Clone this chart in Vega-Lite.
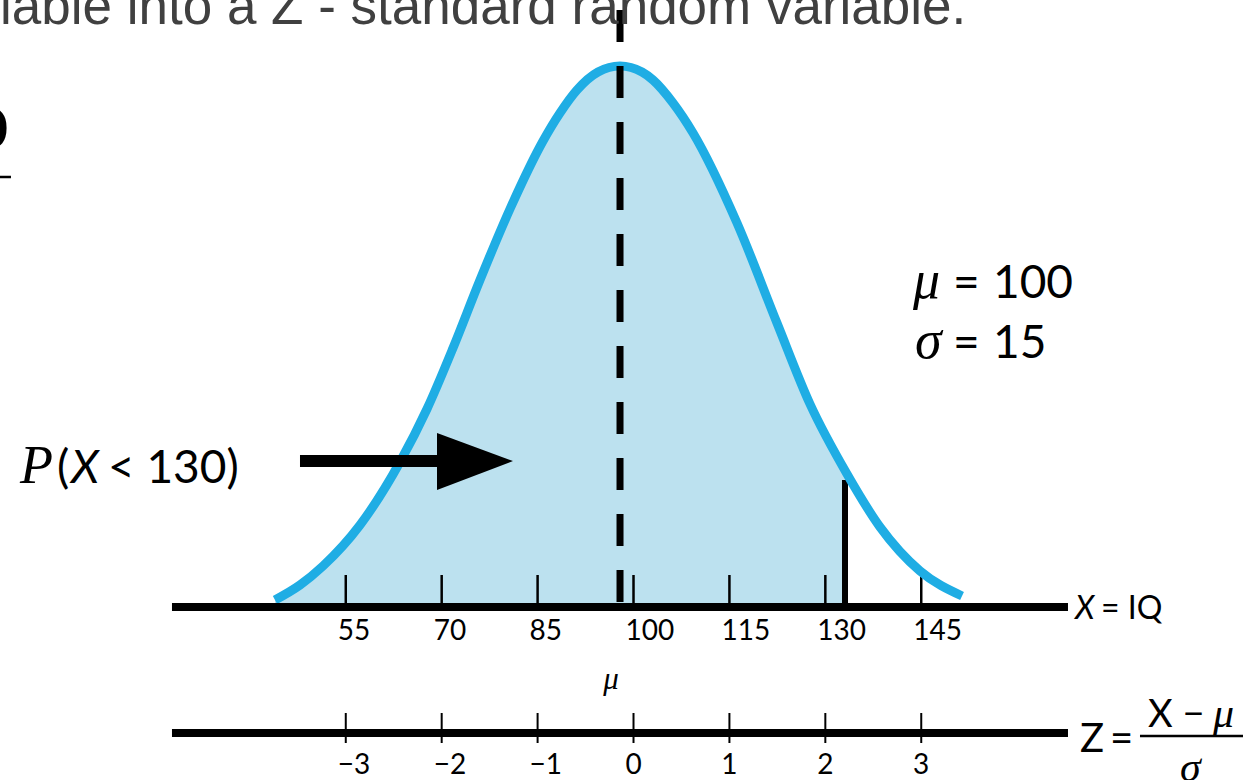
{
  "$schema": "https://vega.github.io/schema/vega-lite/v6.json",
  "width": 1243,
  "height": 780,
  "autosize": {"type": "none"},
  "padding": 0,
  "background": "white",
  "config": {"view": {"stroke": null}},
  "datasets": {
    "curve": [
      {"x": 43.93, "y": 7}, {"x": 47.84, "y": 22}, {"x": 51.44, "y": 41}, {"x": 57.23, "y": 82},
      {"x": 63.48, "y": 145}, {"x": 67.70, "y": 198}, {"x": 71.77, "y": 259}, {"x": 75.99, "y": 327},
      {"x": 80.68, "y": 398}, {"x": 85.85, "y": 466}, {"x": 88.50, "y": 494}, {"x": 91.16, "y": 517}, {"x": 94.45, "y": 535},
      {"x": 97.89, "y": 541}, {"x": 101.33, "y": 535}, {"x": 103.05, "y": 527}, {"x": 106.18, "y": 504}, {"x": 109.31, "y": 474},
      {"x": 116.19, "y": 384}, {"x": 122.44, "y": 284}, {"x": 127.60, "y": 203}, {"x": 133.39, "y": 133},
      {"x": 138.55, "y": 80}, {"x": 144.81, "y": 36}, {"x": 151.38, "y": 11}
    ],
    "fill": [
      {"x": 43.93, "y": 7}, {"x": 47.84, "y": 22}, {"x": 51.44, "y": 41}, {"x": 57.23, "y": 82},
      {"x": 63.48, "y": 145}, {"x": 67.70, "y": 198}, {"x": 71.77, "y": 259}, {"x": 75.99, "y": 327},
      {"x": 80.68, "y": 398}, {"x": 85.85, "y": 466}, {"x": 88.50, "y": 494}, {"x": 91.16, "y": 517}, {"x": 94.45, "y": 535},
      {"x": 97.89, "y": 541}, {"x": 101.33, "y": 535}, {"x": 103.05, "y": 527}, {"x": 106.18, "y": 504}, {"x": 109.31, "y": 474},
      {"x": 116.19, "y": 384}, {"x": 122.44, "y": 284}, {"x": 127.60, "y": 203}, {"x": 133.08, "y": 136}
    ],
    "xticks": [
      {"x": 55, "label": "55"}, {"x": 70, "label": "70"}, {"x": 85, "label": "85"}, {"x": 100, "label": "100"},
      {"x": 115, "label": "115"}, {"x": 130, "label": "130"}, {"x": 145, "label": "145"}
    ],
    "zticks": [
      {"x": 55, "z": -3, "label": "−3"}, {"x": 70, "z": -2, "label": "−2"}, {"x": 85, "z": -1, "label": "−1"},
      {"x": 100, "z": 0, "label": "0"}, {"x": 115, "z": 1, "label": "1"}, {"x": 130, "z": 2, "label": "2"},
      {"x": 145, "z": 3, "label": "3"}
    ],
    "hlines": [
      {"x": 27.82, "x2": 167.95, "y": 0},
      {"x": 27.82, "x2": 167.95, "y": -126}
    ],
    "bars": [
      {"x": 179.21, "x2": 195.32, "y": -129},
      {"x": 0.924, "x2": 2.64, "y": 430}
    ],
    "mean": [{"x": 97.89}],
    "cut": [{"x": 133.08}],
    "shaft": [{"x": 47.84, "x2": 69.74}],
    "head": [{"x": 69.27, "y": 174, "y2": 117}, {"x": 81.15, "y": 146, "y2": 146}],
    "title": [{"x": 0.924, "y": 583, "text": "iable into a Z - standard random variable."}],
    "big": [
      {"x": 149.97, "y": 309, "text": "="}, {"x": 156.22, "y": 309, "text": "100"},
      {"x": 149.97, "y": 249, "text": "="}, {"x": 156.22, "y": 249, "text": "15"},
      {"x": 9.84, "y": 124, "text": "("}, {"x": 17.81, "y": 124, "text": "< 130)"}
    ],
    "bigSerif": [
      {"x": 143.71, "y": 309, "text": "μ"}, {"x": 144.03, "y": 249, "text": "σ"}, {"x": 4.05, "y": 124, "text": "P"}
    ],
    "bigItalic": [{"x": 12.03, "y": 124, "text": "X"}],
    "iqText": [{"x": 173.12, "y": -12, "text": "= IQ"}],
    "iqItalic": [{"x": 169.05, "y": -12, "text": "X"}],
    "zText": [{"x": 169.83, "y": -145, "text": "Z"}, {"x": 174.52, "y": -145, "text": "="}],
    "numText": [{"x": 180.47, "y": -120, "text": "X −"}],
    "zSerif": [{"x": 190.63, "y": -120, "text": "μ"}, {"x": 185.47, "y": -174, "text": "σ"}],
    "muLabel": [{"x": 96.48, "y": -73, "text": "μ"}],
    "edge": [{"x": 2.17, "y": 459, "text": "0"}]
  },
  "layer": [
    {
      "data": {"name": "fill"},
      "mark": {"type": "area", "color": "#BCE1EF", "interpolate": "monotone"},
      "encoding": {
        "x": {"field": "x", "type": "quantitative", "scale": {"domain": [0.924, 195.32], "nice": false, "zero": false}, "axis": null},
        "y": {"field": "y", "type": "quantitative", "scale": {"domain": [-173, 607], "nice": false, "zero": false}, "axis": null},
        "y2": {"datum": 0}
      }
    },
    {
      "data": {"name": "xticks"},
      "mark": {"type": "rule", "color": "black", "strokeWidth": 2.5},
      "encoding": {
        "x": {"field": "x", "type": "quantitative", "scale": {"domain": [0.924, 195.32], "nice": false, "zero": false}, "axis": null},
        "y": {"datum": 0, "type": "quantitative", "scale": {"domain": [-173, 607], "nice": false, "zero": false}, "axis": null},
        "y2": {"datum": 32}
      }
    },
    {
      "data": {"name": "cut"},
      "mark": {"type": "rule", "color": "black", "strokeWidth": 6},
      "encoding": {
        "x": {"field": "x", "type": "quantitative", "scale": {"domain": [0.924, 195.32], "nice": false, "zero": false}, "axis": null},
        "y": {"datum": 0, "type": "quantitative", "scale": {"domain": [-173, 607], "nice": false, "zero": false}, "axis": null},
        "y2": {"datum": 127}
      }
    },
    {
      "data": {"name": "curve"},
      "mark": {"type": "line", "color": "#1FADE4", "strokeWidth": 9, "interpolate": "monotone", "strokeCap": "butt"},
      "encoding": {
        "x": {"field": "x", "type": "quantitative", "scale": {"domain": [0.924, 195.32], "nice": false, "zero": false}, "axis": null},
        "y": {"field": "y", "type": "quantitative", "scale": {"domain": [-173, 607], "nice": false, "zero": false}, "axis": null}
      }
    },
    {
      "data": {"name": "hlines"},
      "mark": {"type": "rule", "color": "black", "strokeWidth": 8, "strokeCap": "butt"},
      "encoding": {
        "x": {"field": "x", "type": "quantitative", "scale": {"domain": [0.924, 195.32], "nice": false, "zero": false}, "axis": null},
        "x2": {"field": "x2"},
        "y": {"field": "y", "type": "quantitative", "scale": {"domain": [-173, 607], "nice": false, "zero": false}, "axis": null}
      }
    },
    {
      "data": {"name": "zticks"},
      "mark": {"type": "rule", "color": "black", "strokeWidth": 2},
      "encoding": {
        "x": {"field": "x", "type": "quantitative", "scale": {"domain": [0.924, 195.32], "nice": false, "zero": false}, "axis": null},
        "y": {"datum": -106, "type": "quantitative", "scale": {"domain": [-173, 607], "nice": false, "zero": false}, "axis": null},
        "y2": {"datum": -136}
      }
    },
    {
      "data": {"name": "mean"},
      "mark": {"type": "rule", "color": "black", "strokeWidth": 7, "strokeDash": [32, 24], "strokeCap": "butt"},
      "encoding": {
        "x": {"field": "x", "type": "quantitative", "scale": {"domain": [0.924, 195.32], "nice": false, "zero": false}, "axis": null},
        "y": {"datum": 597, "type": "quantitative", "scale": {"domain": [-173, 607], "nice": false, "zero": false}, "axis": null},
        "y2": {"datum": 5}
      }
    },
    {
      "data": {"name": "shaft"},
      "mark": {"type": "rule", "color": "black", "strokeWidth": 12, "strokeCap": "butt"},
      "encoding": {
        "x": {"field": "x", "type": "quantitative", "scale": {"domain": [0.924, 195.32], "nice": false, "zero": false}, "axis": null},
        "x2": {"field": "x2"},
        "y": {"datum": 146, "type": "quantitative", "scale": {"domain": [-173, 607], "nice": false, "zero": false}, "axis": null}
      }
    },
    {
      "data": {"name": "head"},
      "mark": {"type": "area", "color": "black"},
      "encoding": {
        "x": {"field": "x", "type": "quantitative", "scale": {"domain": [0.924, 195.32], "nice": false, "zero": false}, "axis": null},
        "y": {"field": "y", "type": "quantitative", "scale": {"domain": [-173, 607], "nice": false, "zero": false}, "axis": null},
        "y2": {"field": "y2"}
      }
    },
    {
      "data": {"name": "bars"},
      "mark": {"type": "rule", "color": "black", "strokeWidth": 2.5},
      "encoding": {
        "x": {"field": "x", "type": "quantitative", "scale": {"domain": [0.924, 195.32], "nice": false, "zero": false}, "axis": null},
        "x2": {"field": "x2"},
        "y": {"field": "y", "type": "quantitative", "scale": {"domain": [-173, 607], "nice": false, "zero": false}, "axis": null}
      }
    },
    {
      "data": {"name": "title"},
      "mark": {"type": "text", "font": "Liberation Sans", "fontSize": 53, "color": "#404040", "align": "left", "baseline": "alphabetic"},
      "encoding": {
        "x": {"field": "x", "type": "quantitative", "scale": {"domain": [0.924, 195.32], "nice": false, "zero": false}, "axis": null},
        "y": {"field": "y", "type": "quantitative", "scale": {"domain": [-173, 607], "nice": false, "zero": false}, "axis": null},
        "text": {"field": "text"}
      }
    },
    {
      "data": {"name": "xticks"},
      "mark": {"type": "text", "font": "Lato", "fontSize": 28, "color": "black", "align": "left", "baseline": "middle", "dx": -8},
      "encoding": {
        "x": {"field": "x", "type": "quantitative", "scale": {"domain": [0.924, 195.32], "nice": false, "zero": false}, "axis": null},
        "y": {"datum": -25, "type": "quantitative", "scale": {"domain": [-173, 607], "nice": false, "zero": false}, "axis": null},
        "text": {"field": "label"}
      }
    },
    {
      "data": {"name": "zticks"},
      "transform": [{"filter": "datum.z < 0"}],
      "mark": {"type": "text", "font": "Lato", "fontSize": 28, "color": "black", "align": "left", "baseline": "middle", "dx": -8},
      "encoding": {
        "x": {"field": "x", "type": "quantitative", "scale": {"domain": [0.924, 195.32], "nice": false, "zero": false}, "axis": null},
        "y": {"datum": -159, "type": "quantitative", "scale": {"domain": [-173, 607], "nice": false, "zero": false}, "axis": null},
        "text": {"field": "label"}
      }
    },
    {
      "data": {"name": "zticks"},
      "transform": [{"filter": "datum.z >= 0"}],
      "mark": {"type": "text", "font": "Lato", "fontSize": 28, "color": "black", "align": "center", "baseline": "middle"},
      "encoding": {
        "x": {"field": "x", "type": "quantitative", "scale": {"domain": [0.924, 195.32], "nice": false, "zero": false}, "axis": null},
        "y": {"datum": -159, "type": "quantitative", "scale": {"domain": [-173, 607], "nice": false, "zero": false}, "axis": null},
        "text": {"field": "label"}
      }
    },
    {
      "data": {"name": "big"},
      "mark": {"type": "text", "font": "Lato", "fontSize": 46, "color": "black", "align": "left", "baseline": "alphabetic"},
      "encoding": {
        "x": {"field": "x", "type": "quantitative", "scale": {"domain": [0.924, 195.32], "nice": false, "zero": false}, "axis": null},
        "y": {"field": "y", "type": "quantitative", "scale": {"domain": [-173, 607], "nice": false, "zero": false}, "axis": null},
        "text": {"field": "text"}
      }
    },
    {
      "data": {"name": "bigSerif"},
      "mark": {"type": "text", "font": "Liberation Serif", "fontStyle": "italic", "fontSize": 54, "color": "black", "align": "left", "baseline": "alphabetic"},
      "encoding": {
        "x": {"field": "x", "type": "quantitative", "scale": {"domain": [0.924, 195.32], "nice": false, "zero": false}, "axis": null},
        "y": {"field": "y", "type": "quantitative", "scale": {"domain": [-173, 607], "nice": false, "zero": false}, "axis": null},
        "text": {"field": "text"}
      }
    },
    {
      "data": {"name": "bigItalic"},
      "mark": {"type": "text", "font": "Lato", "fontStyle": "italic", "fontSize": 46, "color": "black", "align": "left", "baseline": "alphabetic"},
      "encoding": {
        "x": {"field": "x", "type": "quantitative", "scale": {"domain": [0.924, 195.32], "nice": false, "zero": false}, "axis": null},
        "y": {"field": "y", "type": "quantitative", "scale": {"domain": [-173, 607], "nice": false, "zero": false}, "axis": null},
        "text": {"field": "text"}
      }
    },
    {
      "data": {"name": "iqText"},
      "mark": {"type": "text", "font": "Lato", "fontSize": 32, "color": "black", "align": "left", "baseline": "alphabetic"},
      "encoding": {
        "x": {"field": "x", "type": "quantitative", "scale": {"domain": [0.924, 195.32], "nice": false, "zero": false}, "axis": null},
        "y": {"field": "y", "type": "quantitative", "scale": {"domain": [-173, 607], "nice": false, "zero": false}, "axis": null},
        "text": {"field": "text"}
      }
    },
    {
      "data": {"name": "iqItalic"},
      "mark": {"type": "text", "font": "Lato", "fontStyle": "italic", "fontSize": 32, "color": "black", "align": "left", "baseline": "alphabetic"},
      "encoding": {
        "x": {"field": "x", "type": "quantitative", "scale": {"domain": [0.924, 195.32], "nice": false, "zero": false}, "axis": null},
        "y": {"field": "y", "type": "quantitative", "scale": {"domain": [-173, 607], "nice": false, "zero": false}, "axis": null},
        "text": {"field": "text"}
      }
    },
    {
      "data": {"name": "zText"},
      "mark": {"type": "text", "font": "Lato", "fontSize": 40, "color": "black", "align": "left", "baseline": "alphabetic"},
      "encoding": {
        "x": {"field": "x", "type": "quantitative", "scale": {"domain": [0.924, 195.32], "nice": false, "zero": false}, "axis": null},
        "y": {"field": "y", "type": "quantitative", "scale": {"domain": [-173, 607], "nice": false, "zero": false}, "axis": null},
        "text": {"field": "text"}
      }
    },
    {
      "data": {"name": "numText"},
      "mark": {"type": "text", "font": "Lato", "fontSize": 38, "color": "black", "align": "left", "baseline": "alphabetic"},
      "encoding": {
        "x": {"field": "x", "type": "quantitative", "scale": {"domain": [0.924, 195.32], "nice": false, "zero": false}, "axis": null},
        "y": {"field": "y", "type": "quantitative", "scale": {"domain": [-173, 607], "nice": false, "zero": false}, "axis": null},
        "text": {"field": "text"}
      }
    },
    {
      "data": {"name": "zSerif"},
      "mark": {"type": "text", "font": "Liberation Serif", "fontStyle": "italic", "fontSize": 42, "color": "black", "align": "left", "baseline": "alphabetic"},
      "encoding": {
        "x": {"field": "x", "type": "quantitative", "scale": {"domain": [0.924, 195.32], "nice": false, "zero": false}, "axis": null},
        "y": {"field": "y", "type": "quantitative", "scale": {"domain": [-173, 607], "nice": false, "zero": false}, "axis": null},
        "text": {"field": "text"}
      }
    },
    {
      "data": {"name": "muLabel"},
      "mark": {"type": "text", "font": "Liberation Serif", "fontStyle": "italic", "fontSize": 31, "color": "black", "align": "center", "baseline": "middle"},
      "encoding": {
        "x": {"field": "x", "type": "quantitative", "scale": {"domain": [0.924, 195.32], "nice": false, "zero": false}, "axis": null},
        "y": {"field": "y", "type": "quantitative", "scale": {"domain": [-173, 607], "nice": false, "zero": false}, "axis": null},
        "text": {"field": "text"}
      }
    },
    {
      "data": {"name": "edge"},
      "mark": {"type": "text", "font": "Lato", "fontWeight": "bold", "fontSize": 56, "color": "black", "align": "right", "baseline": "alphabetic"},
      "encoding": {
        "x": {"field": "x", "type": "quantitative", "scale": {"domain": [0.924, 195.32], "nice": false, "zero": false}, "axis": null},
        "y": {"field": "y", "type": "quantitative", "scale": {"domain": [-173, 607], "nice": false, "zero": false}, "axis": null},
        "text": {"field": "text"}
      }
    }
  ]
}
